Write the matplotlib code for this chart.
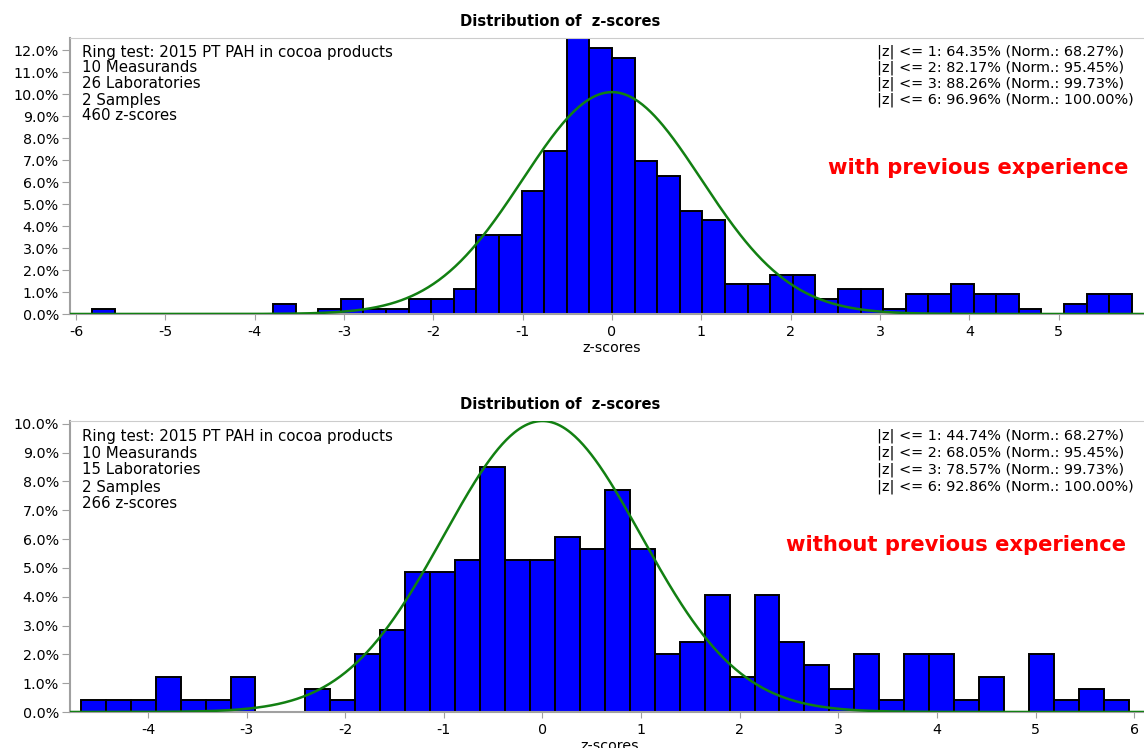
import matplotlib
matplotlib.use("Agg")
import matplotlib.pyplot as plt
import numpy as np

plt.rcParams['font.family'] = ['DejaVu Sans']

# histogram counts per bin (bins of width 0.253), percentages are relative to the in-range scores
bin_width = 0.253

# with previous experience: bin edges start at -23 * bin_width
counts_exp = [1, 0, 0, 0, 0, 0, 0, 0, 2, 0, 1, 3, 1, 1, 3, 3, 5, 16, 16, 25, 33, 56, 54,
              52, 31, 28, 21, 19, 6, 6, 8, 8, 3, 5, 5, 1, 4, 4, 6, 4, 4, 1, 0, 2, 4, 4]
first_edge_exp = -23 * bin_width
in_range_exp = 446

# without previous experience: bins centred on multiples of bin_width, first centre -18 * bin_width
counts_noexp = [1, 1, 1, 3, 1, 1, 3, 0, 0, 2, 1, 5, 7, 12, 12, 13, 21, 13, 13, 15, 14, 19, 14,
                5, 6, 10, 3, 10, 6, 4, 2, 5, 1, 5, 5, 1, 3, 0, 5, 1, 2, 1]
first_edge_noexp = -18 * bin_width - bin_width / 2
in_range_noexp = 247

info_exp = ["Ring test: 2015 PT PAH in cocoa products", "10 Measurands",
            "26 Laboratories", "2 Samples", "460 z-scores"]
info_noexp = ["Ring test: 2015 PT PAH in cocoa products", "10 Measurands",
              "15 Laboratories", "2 Samples", "266 z-scores"]

stats_exp = ["|z| <= 1: 64.35% (Norm.: 68.27%)", "|z| <= 2: 82.17% (Norm.: 95.45%)",
             "|z| <= 3: 88.26% (Norm.: 99.73%)", "|z| <= 6: 96.96% (Norm.: 100.00%)"]
stats_noexp = ["|z| <= 1: 44.74% (Norm.: 68.27%)", "|z| <= 2: 68.05% (Norm.: 95.45%)",
               "|z| <= 3: 78.57% (Norm.: 99.73%)", "|z| <= 6: 92.86% (Norm.: 100.00%)"]

W, H = 1144, 748
fig = plt.figure(figsize=(W / 100, H / 100), dpi=100)


def px_axes(left, top, right, bottom):
    return fig.add_axes([left / W, 1 - bottom / H, (right - left) / W, (bottom - top) / H])


def draw_panel(ax, counts, first_edge, in_range, xlim, xticks, info, stats, label,
               label_xy, line_dy):
    counts = np.array(counts, dtype=float)
    pct = counts / in_range * 100
    edges = first_edge + bin_width * np.arange(len(counts) + 1)
    ax.bar(edges[:-1], pct, width=bin_width, align='edge', color='#0000ff',
           edgecolor='black', linewidth=1.4, zorder=2)

    x = np.linspace(xlim[0], xlim[1], 800)
    y = 100 * bin_width * np.exp(-x ** 2 / 2) / np.sqrt(2 * np.pi)
    ax.plot(x, y, color='#128012', linewidth=1.8, zorder=3)

    ymax = max(pct.max(), y.max())
    ax.set_xlim(*xlim)
    ax.set_ylim(0, ymax)
    ax.set_xticks(xticks)
    ax.set_xticklabels([str(t) for t in xticks])
    yt = np.arange(0, int(ymax) + 1)
    ax.set_yticks(yt)
    ax.set_yticklabels(['%.1f%%' % v for v in yt])
    ax.tick_params(axis='y', length=6, color='#a0a0a0', labelsize=10.3, pad=2)
    ax.tick_params(axis='x', length=4, color='#a0a0a0', labelsize=10.3, pad=4)
    for s in ('left', 'bottom'):
        ax.spines[s].set_color('#a0a0a0')
        ax.spines[s].set_linewidth(1.5)
    ax.spines['top'].set_color('#cccccc')
    ax.spines['right'].set_visible(False)
    ax.set_xlabel('z-scores', fontsize=10.3, labelpad=1)

    for i, line in enumerate(info):
        fig.text(82 / W, 1 - (label_xy[0] + i * line_dy) / H, line, fontsize=10.8,
                 va='center', ha='left')
    for i, line in enumerate(stats):
        fig.text(877 / W, 1 - (label_xy[0] + i * line_dy) / H, line, fontsize=10.4,
                 va='center', ha='left')
    fig.text(label_xy[1] / W, 1 - label_xy[2] / H, label, fontsize=15.2,
             fontweight='bold', color='#ff0000', va='center', ha='right')


# upper panel
ax1 = px_axes(70, 38, 1154, 314)
draw_panel(ax1, counts_exp, first_edge_exp, in_range_exp, (-6.067, 6.067),
           list(range(-6, 7)), info_exp, stats_exp, 'with previous experience',
           (52, 1128, 168), 16)
fig.text(560 / W, 1 - 21 / H, 'Distribution of  z-scores', fontsize=10.6, fontweight='bold',
         ha='center', va='center')

# lower panel
ax2 = px_axes(70, 421, 1149, 712)
draw_panel(ax2, counts_noexp, first_edge_noexp, in_range_noexp, (-4.79, 6.15),
           list(range(-4, 7)), info_noexp, stats_noexp, 'without previous experience',
           (436, 1126, 545), 17)
fig.text(560 / W, 1 - 404 / H, 'Distribution of  z-scores', fontsize=10.6, fontweight='bold',
         ha='center', va='center')

fig.savefig('out.png', dpi=100)
